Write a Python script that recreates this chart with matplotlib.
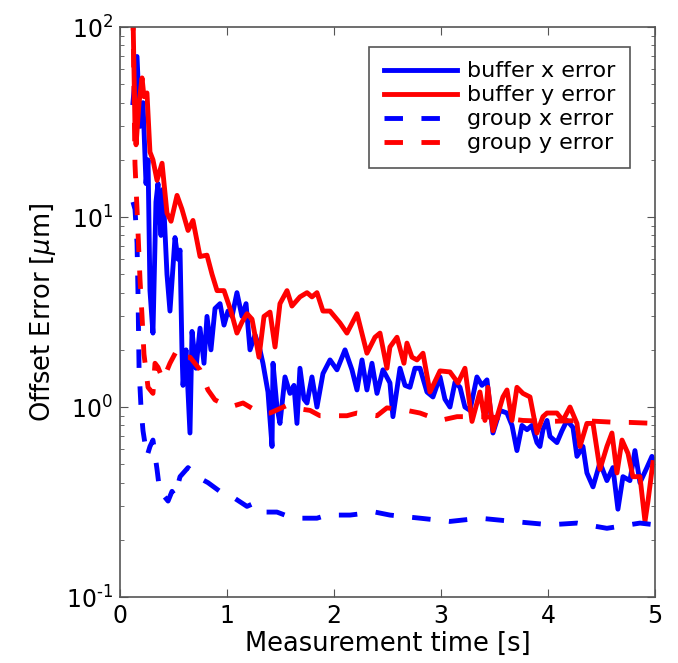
import numpy as np
import matplotlib
matplotlib.use("Agg")
import matplotlib.pyplot as plt

# buffer x error (blue solid)
bx_t = [0.121, 0.159, 0.187, 0.215, 0.243, 0.262, 0.280, 0.308, 0.336, 0.355,
        0.383, 0.402, 0.439, 0.467, 0.514, 0.542, 0.561, 0.579, 0.589, 0.617,
        0.654, 0.673, 0.710, 0.748, 0.785, 0.813, 0.850, 0.888, 0.935, 0.972,
        1.009, 1.047, 1.093, 1.140, 1.178, 1.215, 1.262, 1.308, 1.336, 1.383,
        1.421, 1.430, 1.467, 1.495, 1.542, 1.589, 1.626, 1.654, 1.682, 1.720,
        1.748, 1.794, 1.841, 1.897, 1.963, 2.028, 2.103, 2.168, 2.215, 2.262,
        2.308, 2.355, 2.402, 2.458, 2.523, 2.551, 2.617, 2.664, 2.710, 2.757,
        2.804, 2.869, 2.925, 2.991, 3.037, 3.084, 3.131, 3.178, 3.224, 3.271,
        3.336, 3.383, 3.430, 3.486, 3.551, 3.617, 3.664, 3.710, 3.757, 3.804,
        3.850, 3.897, 3.925, 3.953, 3.991, 4.019, 4.084, 4.131, 4.178, 4.234,
        4.271, 4.327, 4.364, 4.421, 4.486, 4.551, 4.607, 4.654, 4.701, 4.766,
        4.813, 4.860, 4.925, 4.972, 5.000]
bx_v = [40, 70, 30, 40, 15, 20, 4.1, 2.45, 12, 15,
        8, 14, 5, 3.2, 7.8, 6, 6.7, 2, 1.3, 2.0,
        0.73, 2.5, 1.6, 2.6, 1.7, 3.0, 2.0, 3.3, 3.5, 2.7,
        3.2, 3.0, 4.0, 3.0, 3.5, 2.0, 2.4, 2.0, 1.7, 1.2,
        0.62, 1.7, 1.0, 0.82, 1.44, 1.18, 1.3, 0.82, 1.6, 1.1,
        1.05, 1.44, 1.0, 1.5, 1.77, 1.57, 2.0, 1.57, 1.23, 1.77,
        1.23, 1.7, 1.18, 1.57, 1.34, 0.89, 1.6, 1.3, 1.27, 1.6,
        1.6, 1.2, 1.13, 1.44, 1.1, 1.0, 1.35, 1.27, 1.0, 0.96,
        1.44, 1.3, 1.39, 0.73, 0.96, 0.93, 0.8, 0.59, 0.8, 0.76,
        0.8, 0.65, 0.62, 0.76, 0.85, 0.7, 0.65, 0.75, 0.85, 0.78,
        0.55, 0.62, 0.45, 0.38, 0.51, 0.41, 0.48, 0.29, 0.43, 0.41,
        0.59, 0.40, 0.48, 0.55, 0.5]

# buffer y error (red solid)
by_t = [0.121, 0.140, 0.150, 0.178, 0.206, 0.224, 0.252, 0.280, 0.308, 0.346,
        0.393, 0.439, 0.477, 0.533, 0.579, 0.636, 0.682, 0.748, 0.813, 0.860,
        0.907, 0.972, 1.037, 1.093, 1.140, 1.187, 1.234, 1.299, 1.346, 1.402,
        1.449, 1.495, 1.561, 1.607, 1.682, 1.748, 1.794, 1.841, 1.897, 1.963,
        2.056, 2.121, 2.215, 2.308, 2.383, 2.430, 2.495, 2.523, 2.589, 2.654,
        2.682, 2.729, 2.776, 2.832, 2.897, 2.991, 3.084, 3.159, 3.224, 3.290,
        3.364, 3.411, 3.439, 3.486, 3.579, 3.617, 3.664, 3.710, 3.766, 3.832,
        3.897, 3.953, 3.991, 4.084, 4.140, 4.206, 4.271, 4.299, 4.364, 4.421,
        4.486, 4.551, 4.598, 4.645, 4.692, 4.748, 4.794, 4.860, 4.907, 4.935,
        4.981]
by_v = [120, 30, 24, 40, 54, 43, 45, 22, 20, 15.6,
        19.2, 10.5, 9.5, 13, 11, 8.5, 9.6, 6.2, 6.3, 5.0,
        4.1, 4.1, 3.2, 2.45, 2.8, 3.1, 2.9, 1.83, 3.0, 3.16,
        2.07, 3.5, 4.1, 3.4, 3.8, 4.0, 3.8, 4.0, 3.2, 3.2,
        2.77, 2.45, 3.1, 1.92, 2.33, 2.45, 1.6, 2.07, 2.33, 1.7,
        2.17, 1.83, 1.77, 1.92, 1.2, 1.55, 1.53, 1.34, 1.6, 0.84,
        1.2, 0.85, 1.27, 0.75, 1.13, 1.23, 0.85, 1.27, 1.18, 1.13,
        0.73, 0.89, 0.93, 0.93, 0.85, 1.0, 0.82, 0.62, 0.82, 0.82,
        0.47, 0.62, 0.73, 0.45, 0.67, 0.57, 0.43, 0.43, 0.25, 0.32,
        0.51]

# group x error (blue dashed)
gx_t = [0.121, 0.140, 0.159, 0.168, 0.178, 0.196, 0.215, 0.252, 0.280, 0.308,
        0.346, 0.374, 0.411, 0.449, 0.486, 0.514, 0.561, 0.636, 0.720, 0.822,
        0.963, 1.075, 1.187, 1.243, 1.336, 1.467, 1.617, 1.841, 1.935, 2.150,
        2.383, 2.523, 2.804, 3.084, 3.364, 3.673, 4.019, 4.271, 4.551, 4.860,
        5.000]
gx_v = [12, 11, 7.3, 4, 1.6, 1.0, 0.75, 0.55, 0.62, 0.67,
        0.47, 0.35, 0.34, 0.32, 0.36, 0.34, 0.43, 0.48, 0.43, 0.40,
        0.35, 0.33, 0.30, 0.31, 0.28, 0.28, 0.26, 0.26, 0.27, 0.27,
        0.28, 0.27, 0.26, 0.25, 0.26, 0.25, 0.24, 0.245, 0.23, 0.245,
        0.24]

# group y error (red dashed)
gy_t = [0.121, 0.140, 0.159, 0.187, 0.206, 0.224, 0.262, 0.308, 0.327, 0.355,
        0.402, 0.467, 0.533, 0.579, 0.654, 0.748, 0.822, 0.888, 1.028, 1.150,
        1.308, 1.402, 1.561, 1.617, 1.776, 1.869, 2.121, 2.215, 2.402, 2.495,
        2.682, 2.804, 2.991, 3.150, 3.364, 3.551, 3.766, 4.019, 4.299, 4.645,
        4.766, 5.000]
gy_v = [120, 19, 11, 4.7, 3.0, 1.9, 1.27, 1.18, 1.7, 1.62,
        1.39, 1.7, 2.0, 1.83, 1.83, 1.57, 1.23, 1.09, 1.0, 1.05,
        0.93, 0.93, 1.02, 0.99, 0.96, 0.9, 0.9, 0.93, 0.9, 0.99,
        0.96, 0.93, 0.85, 0.89, 0.89, 0.88, 0.85, 0.84, 0.85, 0.83,
        0.83, 0.82]

y_ticks = [0.1, 1, 10, 100]
y_ticklabels = ["$10^{\u20101}$", "$10^{0}$", "$10^{1}$", "$10^{2}$"]

fig = plt.figure(figsize=(6.78, 6.63), dpi=100)
ax = fig.add_axes([0.177, 0.0995, 0.789, 0.8597])

lw = 3.5
dash = (0, (3.8, 3.8))
ax.plot(bx_t, bx_v, color="#0000ff", lw=lw, label="buffer x error")
ax.plot(by_t, by_v, color="#ff0000", lw=lw, label="buffer y error")
ax.plot(gx_t, gx_v, color="#0000ff", lw=lw, ls=dash, label="group x error")
ax.plot(gy_t, gy_v, color="#ff0000", lw=lw, ls=dash, label="group y error")

ax.set_yscale("log")
ax.set_xlim(0, 5)
ax.set_ylim(0.1, 100)
ax.set_xticks([0, 1, 2, 3, 4, 5])
ax.set_yticks(y_ticks)
ax.set_yticklabels(y_ticklabels)
ax.set_xlabel("Measurement time [s]", fontsize=18.5, labelpad=2)
ax.set_ylabel(r"Offset Error [$\mu$m]", fontsize=18.5, labelpad=6)

for sp in ax.spines.values():
    sp.set_color("#555555")
    sp.set_linewidth(1.2)
ax.tick_params(which="both", direction="in", top=True, right=True,
               color="#555555")
ax.tick_params(which="major", length=6, labelsize=17, pad=5)
ax.tick_params(which="minor", length=3)

leg = ax.legend(loc="upper right", bbox_to_anchor=(0.953, 0.965),
                borderaxespad=0, fontsize=16, handlelength=3.3,
                fancybox=False, framealpha=1, edgecolor="#555555",
                borderpad=0.65, labelspacing=0.18, handletextpad=0.45)
leg.get_frame().set_linewidth(1.2)

fig.savefig("out.png", dpi=100)
